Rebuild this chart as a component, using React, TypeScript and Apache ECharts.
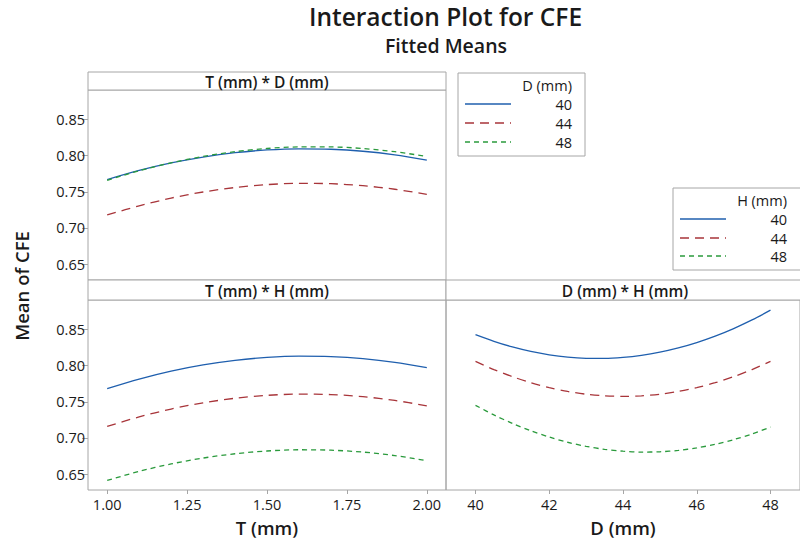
import React, { useEffect, useRef } from "react";
import * as echarts from "echarts";

// ---- Data ----
const T_VALUES = [1.0, 1.1, 1.2, 1.3, 1.4, 1.5, 1.6, 1.7, 1.8, 1.9, 2.0];
const D_VALUES = [40, 40.5, 41, 41.5, 42, 42.5, 43, 43.5, 44, 44.5, 45, 45.5, 46, 46.5, 47, 47.5, 48];
const LEVELS = ["40", "44", "48"];

// T (mm) * D (mm): mean CFE vs T for D = 40, 44, 48
const TD_D40 = [0.767, 0.7796, 0.790, 0.7982, 0.8042, 0.808, 0.8096, 0.809, 0.8062, 0.8012, 0.794];
const TD_D44 = [0.718, 0.7307, 0.7414, 0.7498, 0.756, 0.760, 0.7618, 0.7613, 0.7585, 0.7536, 0.7466];
const TD_D48 = [0.766, 0.7792, 0.7902, 0.799, 0.8056, 0.810, 0.8122, 0.8122, 0.810, 0.8056, 0.799];

// T (mm) * H (mm): mean CFE vs T for H = 40, 44, 48
const TH_H40 = [0.7683, 0.7815, 0.7925, 0.8011, 0.8074, 0.8115, 0.8133, 0.8127, 0.8099, 0.8048, 0.7974];
const TH_H44 = [0.716, 0.7292, 0.7401, 0.7487, 0.755, 0.759, 0.7607, 0.7601, 0.7572, 0.752, 0.7445];
const TH_H48 = [0.6413, 0.6538, 0.6641, 0.6722, 0.6782, 0.682, 0.6837, 0.6831, 0.6805, 0.6756, 0.6686];

// D (mm) * H (mm): mean CFE vs D for H = 40, 44, 48
const DH_H40 = [0.843, 0.8338, 0.826, 0.8198, 0.8151, 0.8119, 0.8103, 0.8101, 0.8115, 0.8144, 0.8188, 0.8247, 0.8321, 0.841, 0.8515, 0.8634, 0.8769];
const DH_H44 = [0.8061, 0.7947, 0.7849, 0.7765, 0.7697, 0.7644, 0.7606, 0.7584, 0.7576, 0.7584, 0.7606, 0.7644, 0.7697, 0.7765, 0.7849, 0.7947, 0.8061];
const DH_H48 = [0.7452, 0.7319, 0.7202, 0.71, 0.7013, 0.6941, 0.6884, 0.6843, 0.6817, 0.6805, 0.6809, 0.6828, 0.6863, 0.6912, 0.6977, 0.7056, 0.7151];

const Y_TICKS = [0.65, 0.7, 0.75, 0.8, 0.85];
const T_TICKS = [1.0, 1.25, 1.5, 1.75, 2.0];
const D_TICKS = [40, 42, 44, 46, 48];

const TITLE = "Interaction Plot for CFE";
const SUBTITLE = "Fitted Means";
const PANEL_TITLES = ["T (mm) * D (mm)", "T (mm) * H (mm)", "D (mm) * H (mm)"];
const X_NAMES = ["T (mm)", "D (mm)"];
const Y_NAME = "Mean of CFE";
const LEGEND_TITLES = ["D (mm)", "H (mm)"];

// ---- Styles ----
const COLORS = ["#1f5fae", "#a8353a", "#2a9a3c"];
const DASHES: any[] = ["solid", [9, 6], [5, 4]];
const FONT = "Open Sans";
const GRAY = "#a6a6a6";
const TXT = "#1a1a1a";

export default function App() {
  const ref = useRef<HTMLDivElement>(null);

  useEffect(() => {
    if (!ref.current) return;
    const chart = echarts.init(ref.current, undefined, { renderer: "svg" });

    const mk = (xs: number[], ys: number[]) => xs.map((x, i) => [x, ys[i]]);
    const groups = [
      { xs: T_VALUES, sets: [TD_D40, TD_D44, TD_D48], idx: 0 },
      { xs: T_VALUES, sets: [TH_H40, TH_H44, TH_H48], idx: 1 },
      { xs: D_VALUES, sets: [DH_H40, DH_H44, DH_H48], idx: 2 },
    ];
    const series: any[] = [];
    groups.forEach((g) => {
      g.sets.forEach((ys, k) => {
        series.push({
          type: "line",
          name: LEVELS[k],
          xAxisIndex: g.idx,
          yAxisIndex: g.idx,
          data: mk(g.xs, ys),
          showSymbol: false,
          symbol: "none",
          smooth: 0.3,
          lineStyle: { color: COLORS[k], width: 1.3, type: DASHES[k] },
          silent: true,
        });
      });
    });

    const yMin = 0.628;
    const yMax = 0.891;
    const labelStyle = { color: TXT, fontFamily: FONT, fontSize: 14.5 };

    const yAxisShown = (show: boolean) => ({
      type: "value",
      min: yMin,
      max: yMax,
      splitLine: { show: false },
      axisLine: { show: false },
      axisTick: show
        ? { show: true, customValues: Y_TICKS, length: 6, lineStyle: { color: GRAY } }
        : { show: false },
      axisLabel: show
        ? { show: true, customValues: Y_TICKS, formatter: (v: number) => v.toFixed(2), margin: 3, ...labelStyle }
        : { show: false },
    });

    const xAxisShown = (min: number, max: number, ticks: number[] | null, dec: number) => ({
      type: "value",
      min,
      max,
      splitLine: { show: false },
      axisLine: { show: false },
      axisTick: ticks
        ? { show: true, customValues: ticks, length: 4, lineStyle: { color: GRAY } }
        : { show: false },
      axisLabel: ticks
        ? { show: true, customValues: ticks, formatter: (v: number) => v.toFixed(dec), margin: 7, ...labelStyle }
        : { show: false },
    });

    const txt = (text: string, x: number, y: number, size: number, weight: string, align: string) => ({
      text,
      x,
      y,
      align,
      verticalAlign: "middle",
      fill: TXT,
      fontFamily: FONT,
      fontSize: size,
      fontWeight: weight,
      lineHeight: size,
    });

    const legendGraphic = (x: number, y: number, w: number, h: number, title: string, rows: number[], lineX1: number, lineX2: number, textRight: number, titleY: number) => {
      const children: any[] = [
        { type: "rect", shape: { x, y, width: w, height: h }, style: { fill: "#fff", stroke: GRAY, lineWidth: 1 } },
        { type: "text", style: txt(title, textRight, titleY, 14.5, "normal", "right") },
      ];
      LEVELS.forEach((lv, k) => {
        children.push({
          type: "line",
          shape: { x1: lineX1, y1: rows[k], x2: lineX2, y2: rows[k] },
          style: { stroke: COLORS[k], lineWidth: 1.3, lineDash: DASHES[k] === "solid" ? null : DASHES[k] },
        });
        children.push({ type: "text", style: txt(lv, textRight, rows[k], 14.5, "normal", "right") });
      });
      return { type: "group", children };
    };

    const header = (x: number, y: number, w: number, h: number, text: string) => ({
      type: "group",
      children: [
        { type: "rect", shape: { x, y, width: w, height: h }, style: { fill: "#fff", stroke: GRAY, lineWidth: 1 } },
        { type: "text", style: txt(text, x + w / 2, y + h / 2 + 0.5, 15.5, "600", "center") },
      ],
    });

    const option: any = {
      animation: false,
      backgroundColor: "#ffffff",
      grid: [
        { left: 88, top: 90, width: 358, height: 190, show: true, borderColor: GRAY, borderWidth: 1 },
        { left: 88, top: 300, width: 358, height: 190, show: true, borderColor: GRAY, borderWidth: 1 },
        { left: 446, top: 300, width: 358, height: 190, show: true, borderColor: GRAY, borderWidth: 1 },
      ],
      xAxis: [
        { gridIndex: 0, ...xAxisShown(0.94, 2.06, null, 2) },
        { gridIndex: 1, ...xAxisShown(0.94, 2.06, T_TICKS, 2) },
        { gridIndex: 2, ...xAxisShown(39.2, 48.8, D_TICKS, 0) },
      ],
      yAxis: [
        { gridIndex: 0, ...yAxisShown(true) },
        { gridIndex: 1, ...yAxisShown(true) },
        { gridIndex: 2, ...yAxisShown(false) },
      ],
      series,
      graphic: [
        header(88, 72, 358, 18, PANEL_TITLES[0]),
        header(88, 280, 358, 20, PANEL_TITLES[1]),
        header(446, 280, 358, 20, PANEL_TITLES[2]),
        { type: "text", style: txt(TITLE, 445.5, 16.5, 24.5, "600", "center") },
        { type: "text", style: txt(SUBTITLE, 446, 45, 19.5, "600", "center") },
        { type: "text", style: txt(X_NAMES[0], 267, 527, 18.5, "600", "center") },
        { type: "text", style: txt(X_NAMES[1], 623, 527, 18.5, "600", "center") },
        {
          type: "text",
          x: 21,
          y: 286,
          rotation: Math.PI / 2,
          style: txt(Y_NAME, 0, 0, 18.5, "600", "center"),
        },
        legendGraphic(458, 73, 127, 83, LEGEND_TITLES[0], [104, 123, 142], 465, 511, 572, 85),
        legendGraphic(673, 188, 140, 82, LEGEND_TITLES[1], [219, 238, 256], 680, 726, 787, 200),
      ],
    };

    chart.setOption(option);
    return () => chart.dispose();
  }, []);

  return (
    <div
      ref={ref}
      style={{ position: "absolute", left: 0, top: 0, width: 800, height: 541, background: "#fff" }}
    />
  );
}
